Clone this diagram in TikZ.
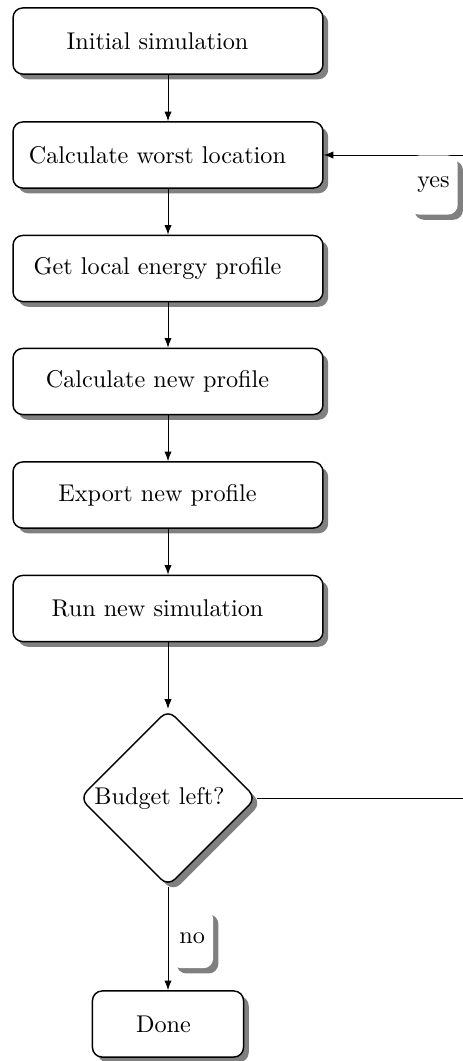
\documentclass[tikz,border=0pt]{standalone}
\usetikzlibrary{shapes.geometric,shadows,arrows.meta}
\begin{document}
\begin{tikzpicture}[x=0.413pt,y=-0.413pt,
  shd/.style={drop shadow={fill=black!50, opacity=1}},
  stepbox/.style={draw, line width=0.6pt, rounded corners=4pt, fill=white, shd,
    minimum width=128pt, minimum height=27.3pt, inner sep=0pt},
  decbox/.style={draw, diamond, aspect=1, line width=0.6pt, rounded corners=4pt, fill=white,
    shd, minimum width=73pt, minimum height=73pt, inner sep=0pt},
  lbl/.style={fill=white, rounded corners=4pt, shd, minimum height=24.4pt},
  conn/.style={-{Latex[length=4pt,width=3pt]}, line width=0.4pt}]
\useasboundingbox (0,0) rectangle (463,1061);
\clip (0,0) rectangle (463,1061);
\node[stepbox] (init) at (168,41) {Initial simulation\kern8.7pt};
\node[stepbox] (calc) at (168,155) {Calculate worst location\kern8.7pt};
\node[stepbox] (get) at (168,268.5) {Get local energy profile\kern8.7pt};
\node[stepbox] (newp) at (168,381.5) {Calculate new profile\kern8.7pt};
\node[stepbox] (expo) at (168,495) {Export new profile\kern8.7pt};
\node[stepbox] (run) at (168,608.5) {Run new simulation\kern8.7pt};
\node[decbox] (budget) at (168,798) {Budget left?\kern7pt};
\node[stepbox, minimum width=62.4pt] (done) at (168,1024) {Done\kern3.7pt};
\coordinate (turn) at (490,798);
\coordinate (back) at (490,155);
\draw[conn] (init) -- (calc);
\draw[conn] (calc) -- (get);
\draw[conn] (get) -- (newp);
\draw[conn] (newp) -- (expo);
\draw[conn] (expo) -- (run);
\draw[conn] (run) -- (budget);
\draw[conn] (budget) -- node[lbl, right, xshift=1.2pt, pos=0.5] {no} (done);
\draw[conn] (budget.east) -- (turn) -- (back) -- node[lbl, below, pos=0.34] {yes} (calc.east);
\end{tikzpicture}
\end{document}
